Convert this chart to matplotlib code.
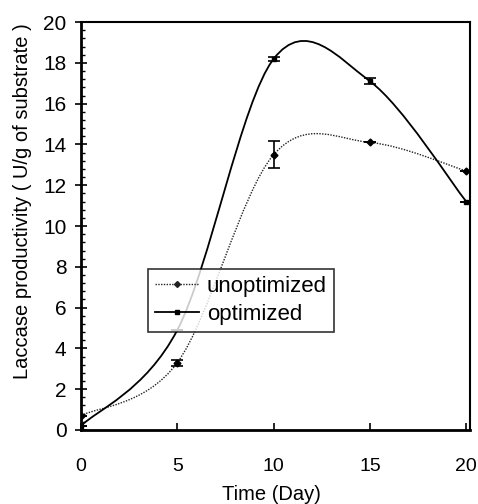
import numpy as np
import matplotlib
matplotlib.use('Agg')
import matplotlib.pyplot as plt
from matplotlib.path import Path
from matplotlib.patches import PathPatch
from matplotlib.lines import Line2D
from matplotlib.ticker import MultipleLocator

plt.rcParams['font.family'] = ['Liberation Sans', 'DejaVu Sans']

# data
days = [0, 5, 10, 15, 20]
unoptimized = [0.7, 3.3, 13.5, 14.1, 12.7]
unoptimized_err = [0.0, 0.15, 0.65, 0.0, 0.0]
optimized = [0.2, 4.9, 18.2, 17.1, 11.2]
optimized_err = [0.0, 0.0, 0.1, 0.15, 0.0]


def smooth_path(x, y):
    # Excel-like smoothed line: cubic bezier segments through the points
    pts = np.column_stack([x, y]).astype(float)
    n = len(pts)
    verts = [pts[0]]
    codes = [Path.MOVETO]
    for i in range(n - 1):
        p0 = pts[i - 1] if i > 0 else pts[i]
        p1 = pts[i]
        p2 = pts[i + 1]
        p3 = pts[i + 2] if i + 2 < n else pts[i + 1]
        c1 = p1 + (p2 - p0) / 6.0
        c2 = p2 - (p3 - p1) / 6.0
        verts += [c1, c2, p2]
        codes += [Path.CURVE4] * 3
    return Path(verts, codes)


fig = plt.figure(figsize=(4.78, 5.04), dpi=100)
ax = fig.add_axes([0.1695, 0.147, 0.814, 0.809])

# unoptimized: dotted thin line, small diamonds
ax.add_patch(PathPatch(smooth_path(days, unoptimized), fill=False,
                       edgecolor='#222222', lw=1.0, linestyle=(0, (1, 1))))
ax.errorbar(days, unoptimized, yerr=unoptimized_err, fmt='D', ms=3.5,
            color='black', ecolor='black', elinewidth=1.2, capsize=4, capthick=1.2)

# optimized: solid line, small squares
ax.add_patch(PathPatch(smooth_path(days, optimized), fill=False,
                       edgecolor='black', lw=1.3))
ax.errorbar(days, optimized, yerr=optimized_err, fmt='s', ms=3.5,
            color='black', ecolor='black', elinewidth=1.2, capsize=4, capthick=1.2,
            markevery=[0, 2, 3, 4])

ax.set_xlim(0, 20.2)
ax.set_ylim(0, 20)
ax.set_xticks([0, 5, 10, 15, 20])
ax.yaxis.set_major_locator(MultipleLocator(2))
ax.yaxis.set_minor_locator(MultipleLocator(0.4))

ax.tick_params(axis='x', direction='in', length=5, width=1.2, pad=20, labelsize=14)
ax.tick_params(axis='y', which='major', direction='inout', length=9, width=1.2,
               pad=6, labelsize=15)
ax.tick_params(axis='y', which='minor', direction='in', length=3, width=1)

for side in ['left', 'bottom']:
    ax.spines[side].set_linewidth(2)
for side in ['top', 'right']:
    ax.spines[side].set_linewidth(1.5)

ax.set_xlabel('Time (Day)', fontsize=14.5)
ax.set_ylabel('Laccase productivity ( U/g of substrate )', fontsize=14.5)
ax.xaxis.set_label_coords(0.49, -0.135)
ax.yaxis.set_label_coords(-0.125, 0.56)

handles = [
    Line2D([], [], color='#222222', lw=1.0, linestyle=(0, (1, 1)), marker='D', ms=3),
    Line2D([], [], color='black', lw=1.3, marker='s', ms=3),
]
leg = ax.legend(handles, ['unoptimized', 'optimized'], loc='lower left',
                bbox_to_anchor=(0.172, 0.241), fontsize=16, frameon=True,
                fancybox=False, edgecolor='black', handlelength=2.0,
                handletextpad=0.35, borderpad=0.3, labelspacing=0.33,
                borderaxespad=0)
leg.get_frame().set_linewidth(1.2)

fig.savefig('out.png', dpi=100)
